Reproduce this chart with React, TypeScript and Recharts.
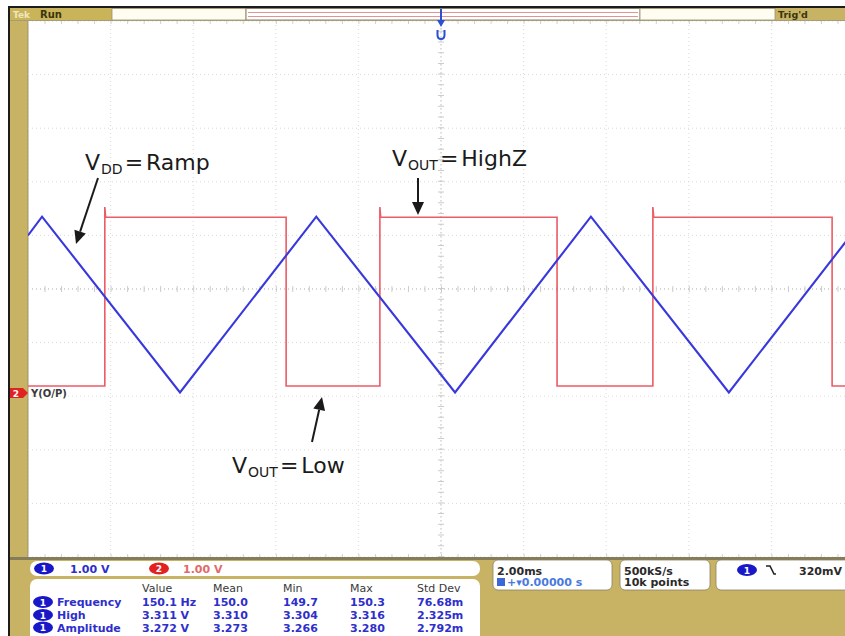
import React from 'react';
import { ComposedChart, Line, XAxis, YAxis, CartesianGrid, ReferenceLine } from 'recharts';

// ---- axis ticks (2 ms/div horizontally, 1 V/div vertically) ----
const timeTicks = [-10, -8, -6, -4, -2, 0, 2, 4, 6, 8, 10];
const divTicks = [-5, -4, -3, -2, -1, 0, 1, 2, 3, 4, 5];

// ---- channel 1 (VDD ramp, blue) ----
const ch1Time = [-10, -9.66, -6.32, -3.02, 0.34, 3.63, 6.97, 10];
const ch1Volts = [1.0, 1.35, -1.93, 1.35, -1.93, 1.35, -1.93, 1.08];

// ---- channel 2 (Y(O/P), red) ----
const ch2Time = [-10, -8.14, -8.14, -8.12, -3.75, -3.75, -1.48, -1.48, -1.46, 2.81, 2.81, 5.13, 5.13, 5.15, 9.47, 9.47, 10];
const ch2Volts = [-1.81, -1.81, 1.53, 1.34, 1.34, -1.81, -1.81, 1.53, 1.34, 1.34, -1.81, -1.81, 1.53, 1.34, 1.34, -1.81, -1.81];

// ---- readouts ----
const measureNames = ['Frequency', 'High', 'Amplitude'];
const measureCols = ['Value', 'Mean', 'Min', 'Max', 'Std Dev'];
const measureFreq = ['150.1 Hz', '150.0', '149.7', '150.3', '76.68m'];
const measureHigh = ['3.311 V', '3.310', '3.304', '3.316', '2.325m'];
const measureAmp = ['3.272 V', '3.273', '3.266', '3.280', '2.792m'];
const measureRows = [measureFreq, measureHigh, measureAmp];
const chScales = ['1.00 V', '1.00 V'];

const ch1Data = ch1Time.map((t, i) => ({ t, v: ch1Volts[i] }));
const ch2Data = ch2Time.map((t, i) => ({ t, v: ch2Volts[i] }));

const PLOT_LEFT = 28;
const PLOT_TOP = 21;
const PLOT_W = 826;
const PLOT_H = 536;

const GOLD = '#c7b363';
const FONT = "'DejaVu Sans', Verdana, sans-serif";
const BLUE_TXT = '#2e2ecc';

function Arrow({ x1, y1, x2, y2 }: { x1: number; y1: number; x2: number; y2: number }) {
  const dx = x2 - x1;
  const dy = y2 - y1;
  const len = Math.hypot(dx, dy);
  const ux = dx / len;
  const uy = dy / len;
  const hl = 13;
  const hw = 6;
  const bx = x2 - ux * hl;
  const by = y2 - uy * hl;
  const px = -uy;
  const py = ux;
  return (
    <g>
      <line x1={x1} y1={y1} x2={bx} y2={by} stroke="#1a1a1a" strokeWidth={2} />
      <polygon
        points={`${x2},${y2} ${bx + px * hw},${by + py * hw} ${bx - px * hw},${by - py * hw}`}
        fill="#1a1a1a"
      />
    </g>
  );
}

function Label({ x, y, sub, rest }: { x: number; y: number; sub: string; rest: string }) {
  return (
    <text x={x} y={y} fontFamily={FONT} fontSize={22} fill="#1a1a1a">
      <tspan>V</tspan>
      <tspan fontSize={14} dy={4} dx={1}>{sub}</tspan>
      <tspan dy={-4} dx={2}>=</tspan>
      <tspan dx={3}>{rest}</tspan>
    </text>
  );
}

function ChBadge({ cx, cy, n, color }: { cx: number; cy: number; n: string; color: string }) {
  return (
    <g>
      <ellipse cx={cx} cy={cy} rx={10} ry={6} fill={color} />
      <text x={cx} y={cy + 3.5} textAnchor="middle" fontFamily={FONT} fontSize={9} fontWeight="bold" fill="#fff">{n}</text>
    </g>
  );
}

export default function App() {
  const colX = [142, 213, 283, 350, 417];
  const rowY = [602, 615, 627.5];
  const trigX = PLOT_LEFT + PLOT_W / 2;
  return (
    <div style={{ position: 'absolute', left: 0, top: 0, width: 845, height: 636, overflow: 'hidden', background: '#fff' }}>
      <svg width={845} height={636} style={{ position: 'absolute', left: 0, top: 0 }}>
        <rect x={0} y={0} width={845} height={636} fill="#fff" />
        <rect x={8} y={6} width={837} height={630} fill="#1c1c1c" />
        <rect x={10} y={8} width={835} height={628} fill={GOLD} />
        <rect x={PLOT_LEFT} y={PLOT_TOP} width={817} height={PLOT_H} fill="#fff" />
        <line x1={PLOT_LEFT} y1={PLOT_TOP} x2={PLOT_LEFT} y2={PLOT_TOP + PLOT_H} stroke="#9a9070" strokeWidth={1} />
        {/* top status bar */}
        <rect x={10} y={8} width={102} height={12} fill="#c9b45a" />
        <text x={13} y={17.5} fontFamily={FONT} fontSize={9} fontWeight="bold" fill="#efe6c0">Tek</text>
        <text x={40} y={17.5} fontFamily={FONT} fontSize={10} fontWeight="bold" fill="#3b3410">Run</text>
        <rect x={112} y={8.5} width={134} height={11.5} fill="#fffdf2" stroke="#9b9270" strokeWidth={0.8} />
        <rect x={246} y={8.5} width={394} height={11.5} fill="#fff" stroke="#8a8266" strokeWidth={1} />
        <line x1={248} y1={12.5} x2={638} y2={12.5} stroke="#e09595" strokeWidth={1.2} />
        <line x1={248} y1={16.5} x2={638} y2={16.5} stroke="#e09595" strokeWidth={1.2} />
        <rect x={640} y={8.5} width={135} height={11.5} fill="#fffdf2" stroke="#9b9270" strokeWidth={0.8} />
        <text x={778} y={17.5} fontFamily={FONT} fontSize={9.5} fontWeight="bold" fill="#3b3410">Trig'd</text>
        <line x1={10} y1={20.5} x2={845} y2={20.5} stroke="#a59c78" strokeWidth={1} />

        {/* bottom readout panel */}
        <rect x={10} y={557} width={835} height={3} fill="#857c5a" />
        <rect x={30} y={561} width={450} height={15} rx={7} fill="#fff" />
        <ChBadge cx={44} cy={568.5} n="1" color="#1818c8" />
        <text x={70} y={572.5} fontFamily={FONT} fontSize={11} fontWeight="bold" fill={BLUE_TXT}>{chScales[0]}</text>
        <ChBadge cx={159} cy={568.5} n="2" color="#e02222" />
        <text x={183} y={572.5} fontFamily={FONT} fontSize={11} fontWeight="bold" fill="#e26a6a">{chScales[1]}</text>

        <rect x={30} y={579} width={450} height={70} rx={7} fill="#fff" />
        {measureCols.map((c, i) => (
          <text key={c} x={colX[i]} y={591.5} fontFamily={FONT} fontSize={11} fill="#3a3a3a">{c}</text>
        ))}
        {measureNames.map((n, r) => (
          <g key={n}>
            <ChBadge cx={43} cy={rowY[r]} n="1" color="#1818c8" />
            <text x={57} y={rowY[r] + 4} fontFamily={FONT} fontSize={11} fontWeight="bold" fill={BLUE_TXT}>{n}</text>
            {measureRows[r].map((v, i) => (
              <text key={i} x={colX[i]} y={rowY[r] + 4} fontFamily={FONT} fontSize={11} fontWeight="bold" fill={BLUE_TXT}>{v}</text>
            ))}
          </g>
        ))}

        <rect x={493} y={560} width={119} height={30} rx={5} fill="#fff" stroke="#8a8266" strokeWidth={0.8} />
        <text x={497} y={574.5} fontFamily={FONT} fontSize={11} fontWeight="bold" fill="#2a2a2a">2.00ms</text>
        <rect x={497} y={578} width={8} height={8} fill="#3d66d6" />
        <text x={507} y={586} fontFamily={FONT} fontSize={11} fontWeight="bold" fill="#4a7ae0">+▾0.00000 s</text>

        <rect x={620} y={560} width={90} height={30} rx={5} fill="#fff" stroke="#8a8266" strokeWidth={0.8} />
        <text x={624} y={574.5} fontFamily={FONT} fontSize={11} fontWeight="bold" fill="#2a2a2a">500kS/s</text>
        <text x={624} y={586} fontFamily={FONT} fontSize={11} fontWeight="bold" fill="#2a2a2a">10k points</text>

        <rect x={716} y={560} width={140} height={30} rx={5} fill="#fff" stroke="#8a8266" strokeWidth={0.8} />
        <ChBadge cx={747} cy={570} n="1" color="#1818c8" />
        <path d="M766,566 h4 l4,8 h2" fill="none" stroke="#222" strokeWidth={1.6} />
        <text x={799} y={574.5} fontFamily={FONT} fontSize={11} fontWeight="bold" fill="#2a2a2a">320mV</text>
      </svg>

      <div style={{ position: 'absolute', left: PLOT_LEFT, top: PLOT_TOP, width: PLOT_W, height: PLOT_H }}>
        <ComposedChart width={PLOT_W} height={PLOT_H} margin={{ top: 0, right: 0, bottom: 0, left: 0 }}>
          <XAxis type="number" dataKey="t" domain={[-10, 10]} ticks={timeTicks} hide allowDataOverflow />
          <YAxis type="number" domain={[-5, 5]} ticks={divTicks} hide allowDataOverflow />
          <CartesianGrid stroke="#d9d9d9" strokeDasharray="1 3" />
          <ReferenceLine y={0} stroke="#bdbdbd" strokeDasharray="1 3" />
          <ReferenceLine y={0} stroke="#cccccc" strokeWidth={6} strokeDasharray="1 15.52" />
          <ReferenceLine x={0} stroke="#bdbdbd" strokeDasharray="1 3" />
          <ReferenceLine x={0} stroke="#cccccc" strokeWidth={6} strokeDasharray="1 9.72" />
          <ReferenceLine y={5} stroke="#d0d0d0" strokeWidth={6} strokeDasharray="1 15.52" />
          <ReferenceLine y={-5} stroke="#d0d0d0" strokeWidth={6} strokeDasharray="1 15.52" />
          <Line data={ch2Data} dataKey="v" type="linear" stroke="#ec5b66" strokeWidth={1.6} dot={false} isAnimationActive={false} />
          <Line data={ch1Data} dataKey="v" type="linear" stroke="#3838dc" strokeWidth={2.1} dot={false} isAnimationActive={false} />
        </ComposedChart>
      </div>

      <svg width={845} height={636} style={{ position: 'absolute', left: 0, top: 0, pointerEvents: 'none' }}>
        {/* trigger position marker */}
        <line x1={trigX} y1={9} x2={trigX} y2={22} stroke="#2a4fd0" strokeWidth={2} />
        <polygon points={`${trigX - 4},${20} ${trigX + 4},${20} ${trigX},${27}`} fill="#2a4fd0" />
        <path d={`M${trigX - 3.5},${30} v5 q0,4 3.5,4 q3.5,0 3.5,-4 v-5`} fill="none" stroke="#2a4fd0" strokeWidth={2} />

        {/* channel 2 ground marker */}
        <path d="M10,388 h13 l5,5 l-5,5 h-13 z" fill="#e02222" />
        <text x={16} y={396.5} textAnchor="middle" fontFamily={FONT} fontSize={9} fontWeight="bold" fill="#fff">2</text>
        <text x={31} y={397} fontFamily={FONT} fontSize={10} fontWeight="bold" fill="#3a3a3a">Y(O/P)</text>

        {/* annotations */}
        <Label x={85} y={170} sub="DD" rest="Ramp" />
        <Arrow x1={98} y1={178} x2={76} y2={244} />
        <Label x={392} y={166} sub="OUT" rest="HighZ" />
        <Arrow x1={418} y1={178} x2={418} y2={215} />
        <Label x={232} y={473} sub="OUT" rest="Low" />
        <Arrow x1={312} y1={442} x2={322} y2={397} />
      </svg>
    </div>
  );
}
